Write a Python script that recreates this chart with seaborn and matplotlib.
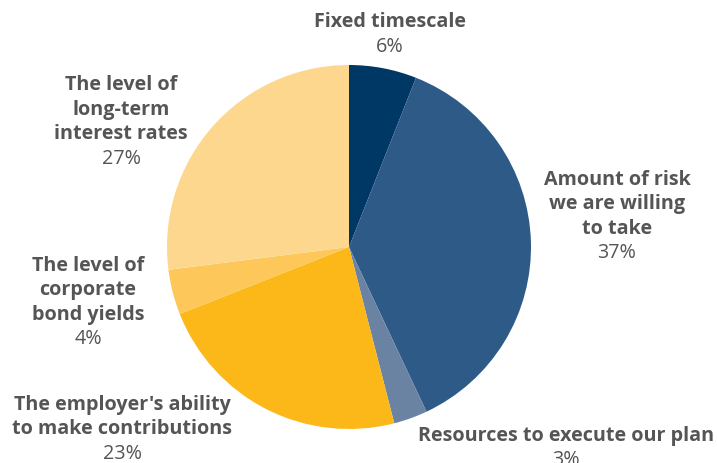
import matplotlib
matplotlib.use("Agg")
import matplotlib.pyplot as plt
import seaborn as sns

categories = ["Fixed timescale", "Amount of risk\nwe are willing\nto take",
              "Resources to execute our plan", "The employer's ability\nto make contributions",
              "The level of\ncorporate\nbond yields", "The level of\nlong-term\ninterest rates"]
values = [6, 37, 3, 23, 4, 27]
colors = ["#003865", "#2E5A87", "#6A83A2", "#FBB818", "#FDC75A", "#FED78F"]

sns.set_theme(style="white")
plt.rcParams['font.family'] = ['Open Sans', 'DejaVu Sans']

W, H = 717, 464
fig = plt.figure(figsize=(W / 100, H / 100), dpi=100)
ax = fig.add_axes([0, 0, 1, 1])
ax.set_xlim(0, W)
ax.set_ylim(0, H)
ax.set_aspect('equal')
ax.axis('off')

pal = sns.color_palette(colors)
ax.pie(values, colors=pal, startangle=90, counterclock=False,
       center=(349, H - 248), radius=182, wedgeprops=dict(linewidth=0))
ax.set_xlim(0, W)
ax.set_ylim(0, H)

# label anchor (x center, y of first line in pixels from top)
anchors = [(390, 22), (617, 180), (566, 436), (122, 405), (88, 266), (121, 85)]
step = 24.5
tc = "#555555"
for cat, v, (x, y) in zip(categories, values, anchors):
    lines = cat.split("\n")
    for i, ln in enumerate(lines):
        ax.text(x, H - (y + i * step), ln, ha='center', va='center',
                fontsize=14.2, fontweight='bold', color=tc)
    ax.text(x, H - (y + len(lines) * step), f"{v}%", ha='center', va='center',
            fontsize=14.2, color=tc)

fig.savefig("out.png", dpi=100)
